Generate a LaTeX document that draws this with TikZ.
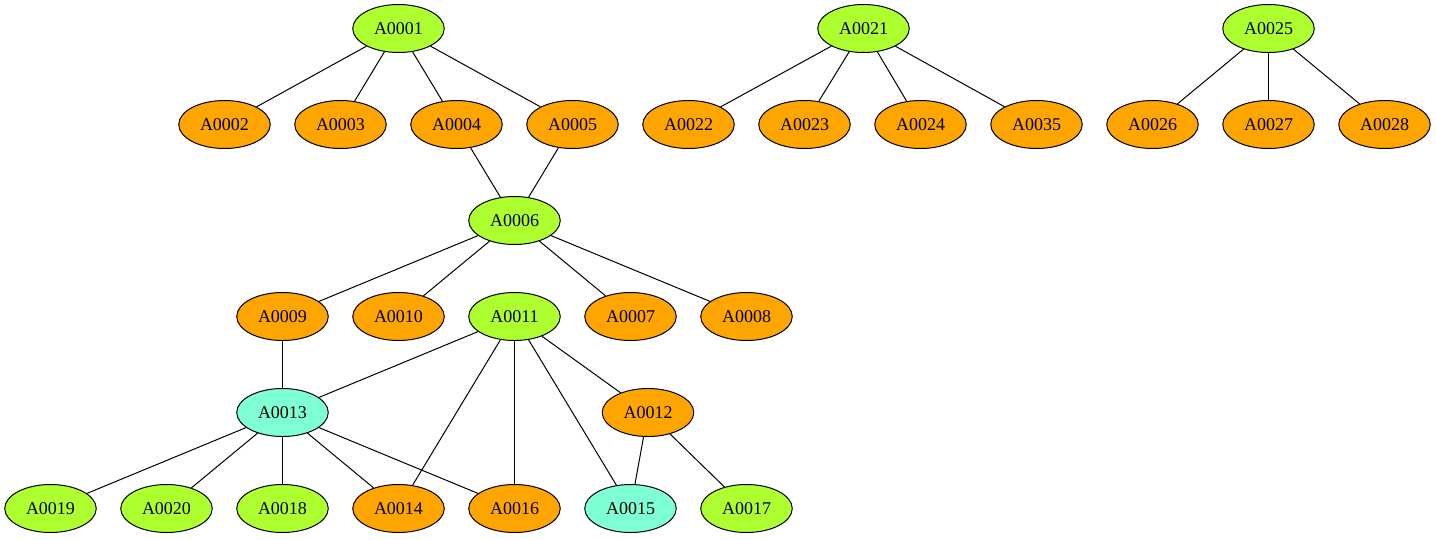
\documentclass[tikz,border=0pt]{standalone}
\usepackage{fontspec}
\setmainfont{Liberation Serif}
\usetikzlibrary{shapes.geometric}
\definecolor{leafgreen}{HTML}{ADFF2F}
\definecolor{leaforange}{HTML}{FFA500}
\definecolor{leafaqua}{HTML}{7FFFD4}
\begin{document}
\begin{tikzpicture}
    [
      x=1pt,
      y=-1pt,
      line width=1pt,
      item/.style=
      {
        ellipse,
        draw=black,
        inner sep=0pt,
        minimum width=91.5pt,
        minimum height=48pt,
        text=black,
        font=\fontsize{18}{20}\selectfont
      },
      green/.style={item, fill=leafgreen},
      orange/.style={item, fill=leaforange},
      aqua/.style={item, fill=leafaqua},
      link/.style={draw=black, line width=1pt}
    ]
    \useasboundingbox (0,0) rectangle (1436,539);

    % first row
    \node[green](A0001) at (398.5,28.5) {A0001};
    \node[green](A0021) at (863.5,28.5) {A0021};
    \node[green](A0025) at (1268.5,28.5) {A0025};

    % second row
    \node[orange](A0002) at (224.5,124.5) {A0002};
    \node[orange](A0003) at (340.5,124.5) {A0003};
    \node[orange](A0004) at (456.5,124.5) {A0004};
    \node[orange](A0005) at (572.5,124.5) {A0005};
    \node[orange](A0022) at (688.5,124.5) {A0022};
    \node[orange](A0023) at (804.5,124.5) {A0023};
    \node[orange](A0024) at (920.5,124.5) {A0024};
    \node[orange](A0035) at (1036.5,124.5) {A0035};
    \node[orange](A0026) at (1152.5,124.5) {A0026};
    \node[orange](A0027) at (1268.5,124.5) {A0027};
    \node[orange](A0028) at (1384.5,124.5) {A0028};

    % third row
    \node[green](A0006) at (514.5,220.5) {A0006};

    % fourth row
    \node[orange](A0009) at (282.5,316.5) {A0009};
    \node[orange](A0010) at (398.5,316.5) {A0010};
    \node[green](A0011) at (514.5,316.5) {A0011};
    \node[orange](A0007) at (630.5,316.5) {A0007};
    \node[orange](A0008) at (746.5,316.5) {A0008};

    % fifth row
    \node[aqua](A0013) at (282.5,412.5) {A0013};
    \node[orange](A0012) at (648,412.5) {A0012};

    % sixth row
    \node[green](A0019) at (50.5,508.5) {A0019};
    \node[green](A0020) at (166.5,508.5) {A0020};
    \node[green](A0018) at (282.5,508.5) {A0018};
    \node[orange](A0014) at (398.5,508.5) {A0014};
    \node[orange](A0016) at (514.5,508.5) {A0016};
    \node[aqua](A0015) at (630.5,508.5) {A0015};
    \node[green](A0017) at (746.5,508.5) {A0017};

    % links
    \draw[link] (A0001) -- (A0002);
    \draw[link] (A0001) -- (A0003);
    \draw[link] (A0001) -- (A0004);
    \draw[link] (A0001) -- (A0005);
    \draw[link] (A0021) -- (A0022);
    \draw[link] (A0021) -- (A0023);
    \draw[link] (A0021) -- (A0024);
    \draw[link] (A0021) -- (A0035);
    \draw[link] (A0025) -- (A0026);
    \draw[link] (A0025) -- (A0027);
    \draw[link] (A0025) -- (A0028);
    \draw[link] (A0004) -- (A0006);
    \draw[link] (A0005) -- (A0006);
    \draw[link] (A0006) -- (A0009);
    \draw[link] (A0006) -- (A0010);
    \draw[link] (A0006) -- (A0007);
    \draw[link] (A0006) -- (A0008);
    \draw[link] (A0009) -- (A0013);
    \draw[link] (A0011) -- (A0013);
    \draw[link] (A0011) -- (A0014);
    \draw[link] (A0011) -- (A0016);
    \draw[link] (A0011) -- (A0015);
    \draw[link] (A0011) -- (A0012);
    \draw[link] (A0012) -- (A0015);
    \draw[link] (A0012) -- (A0017);
    \draw[link] (A0013) -- (A0019);
    \draw[link] (A0013) -- (A0020);
    \draw[link] (A0013) -- (A0018);
    \draw[link] (A0013) -- (A0014);
    \draw[link] (A0013) -- (A0016);
  \end{tikzpicture}
\end{document}
